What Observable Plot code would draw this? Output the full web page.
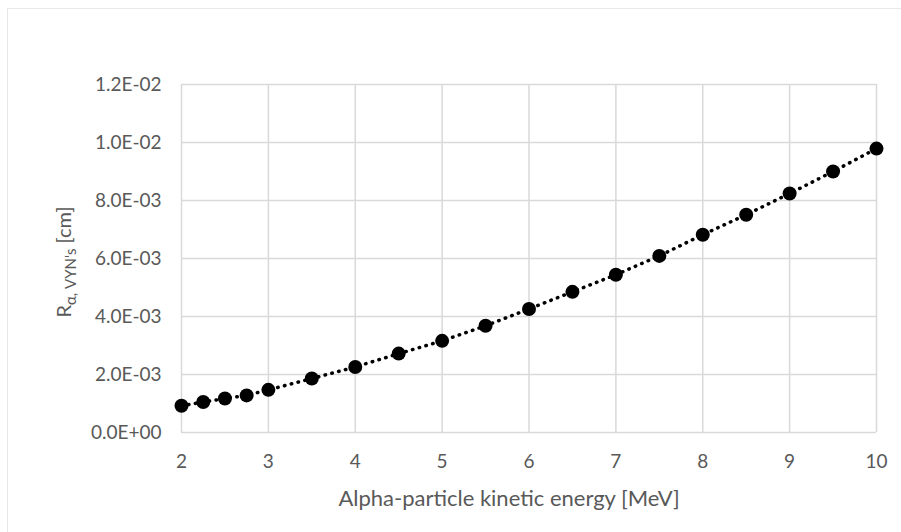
<!DOCTYPE html>
<html>
<head>
<meta charset="utf-8">
<script src="https://cdn.jsdelivr.net/npm/d3@7"></script>
<script src="https://cdn.jsdelivr.net/npm/@observablehq/plot@0.6"></script>
<style>
  html, body { margin: 0; padding: 0; background: #fff; }
  #wrap { position: relative; width: 901px; height: 532px; overflow: hidden; }
  #border { position: absolute; left: 7px; top: 8px; width: 900px; height: 530px; border: 1px solid #e8e8e8; box-sizing: border-box; pointer-events: none; }
  svg { display: block; }
</style>
</head>
<body>
<div id="wrap"><div id="border"></div></div>
<script>
// Data
const energy = [2, 2.25, 2.5, 2.75, 3, 3.5, 4, 4.5, 5, 5.5, 6, 6.5, 7, 7.5, 8, 8.5, 9, 9.5, 10];
const rangeCm = [0.92e-3, 1.05e-3, 1.17e-3, 1.28e-3, 1.47e-3, 1.86e-3, 2.26e-3, 2.72e-3, 3.16e-3, 3.68e-3,
                 4.26e-3, 4.85e-3, 5.44e-3, 6.09e-3, 6.82e-3, 7.51e-3, 8.24e-3, 9.00e-3, 9.79e-3];
const xTicks = [2, 3, 4, 5, 6, 7, 8, 9, 10];
const yTicks = [0, 0.002, 0.004, 0.006, 0.008, 0.010, 0.012];
const xLabel = "Alpha-particle kinetic energy [MeV]";

const data = energy.map((e, i) => ({ e, r: rangeCm[i] }));

function sci(d) {
  const [m, ex] = d.toExponential(1).split("e");
  const sign = ex[0] === "-" ? "-" : "+";
  return m + "E" + sign + String(Math.abs(+ex)).padStart(2, "0");
}

const textColor = "#595959";
const gridColor = "#d9d9d9";
const font = "Lato, 'Open Sans', sans-serif";

const chart = Plot.plot({
  width: 901,
  height: 532,
  marginLeft: 181,
  marginRight: 25,
  marginTop: 84,
  marginBottom: 100,
  style: { fontFamily: font, fontSize: "19px", color: textColor, background: "transparent" },
  x: { domain: [2, 10] },
  y: { domain: [0, 0.012] },
  marks: [
    Plot.gridX(xTicks, { stroke: gridColor, strokeOpacity: 1, strokeWidth: 1.5 }),
    Plot.gridY(yTicks, { stroke: gridColor, strokeOpacity: 1, strokeWidth: 1.5 }),
    Plot.axisX(xTicks, { tickSize: 0, tickPadding: 22, label: null, fill: textColor, fontSize: 19, tickFormat: d => String(d) }),
    Plot.axisY(yTicks, { tickSize: 0, tickPadding: 20, label: null, fill: textColor, fontSize: 19, tickFormat: sci }),
    Plot.line(data, { x: "e", y: "r", stroke: "black", strokeWidth: 3.5, strokeDasharray: "0.5 6.5", strokeLinecap: "round" }),
    Plot.dot(data, { x: "e", y: "r", r: 7, fill: "black", stroke: "none" }),
    Plot.text([xLabel], { frameAnchor: "bottom", dy: 73, dx: -20, fill: textColor, fontSize: 22, lineAnchor: "bottom" })
  ]
});

document.getElementById("wrap").appendChild(chart);

// Rotated y-axis title with subscript
const svg = d3.select(chart);
const t = svg.append("text")
  .attr("transform", "translate(71,262) rotate(-90)")
  .attr("text-anchor", "middle")
  .attr("fill", textColor)
  .attr("font-family", font)
  .attr("font-size", 20);
t.append("tspan").text("R");
t.append("tspan").attr("font-size", 15).attr("dy", 5).text("α, VYN's");
t.append("tspan").attr("dy", -5).text(" [cm]");
</script>
</body>
</html>
